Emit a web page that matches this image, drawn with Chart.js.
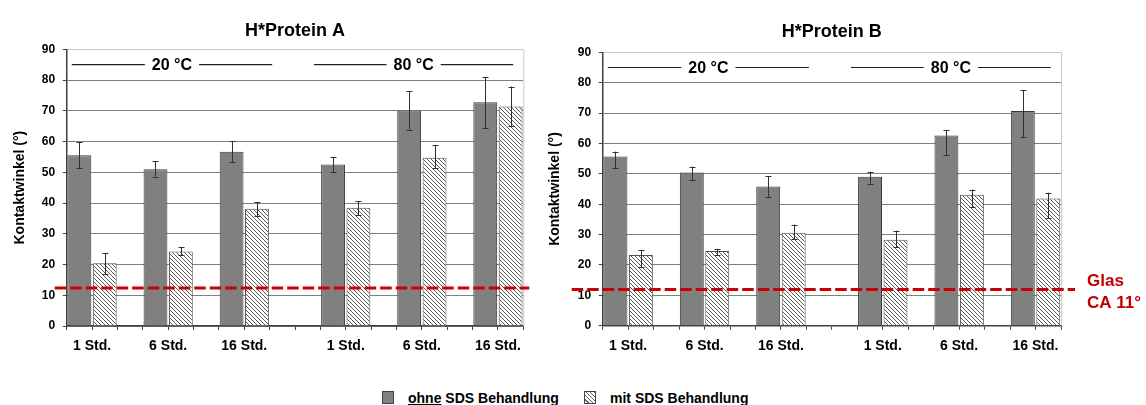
<!DOCTYPE html>
<html>
<head>
<meta charset="utf-8">
<script src="https://cdn.jsdelivr.net/npm/chart.js@4.4.1/dist/chart.umd.min.js"></script>
<style>
  html, body { margin: 0; padding: 0; background: #fff; }
  body { width: 1146px; height: 405px; position: relative; overflow: hidden;
         font-family: 'Liberation Sans', Arial, sans-serif; }
  canvas { position: absolute; top: 0; }
  #chartA { left: 0; }
  #chartB { left: 535px; }
  .sw { position: absolute; top: 391px; width: 12px; height: 13px; box-sizing: border-box; border: 1px solid #404040; }
  .lg { position: absolute; top: 390px; font-size: 14px; line-height: 16px; font-weight: bold; color: #000; white-space: nowrap; }
</style>
</head>
<body>
<canvas id="chartA" width="530" height="370"></canvas>
<canvas id="chartB" width="611" height="370"></canvas>

<div class="sw" style="left:382px; background:#808080;"></div>
<div class="lg" style="left:408px;"><u>ohne</u> SDS Behandlung</div>
<div class="sw" style="left:584px; background:repeating-linear-gradient(45deg, #fff 0 2px, #606060 2px 3px);"></div>
<div class="lg" style="left:610px;">mit SDS Behandlung</div>

<script>
// categories
const timeLabels = ['1 Std.', '6 Std.', '16 Std.'];
const tempLabels = ['20 °C', '80 °C'];

// y axis
const yMin = 0;
const yMax = 90;
const yStep = 10;

// H*Protein A (20 °C: 1, 6, 16 Std. / 80 °C: 1, 6, 16 Std.)
const ohneA    = [55.5, 51.0, 56.7, 52.5, 70.1, 72.8];
const ohneA_lo = [51.3, 48.6, 53.4, 50.0, 63.9, 64.4];
const ohneA_hi = [59.7, 53.6, 60.2, 55.1, 76.3, 81.1];
const mitA     = [20.4, 24.2, 38.1, 38.5, 54.7, 71.4];
const mitA_lo  = [16.8, 23.1, 35.7, 36.2, 51.3, 65.0];
const mitA_hi  = [23.8, 25.6, 40.3, 40.6, 58.9, 77.9];
const glasA = 12.4;

// H*Protein B
const ohneB    = [55.7, 50.4, 45.8, 49.0, 62.6, 70.7];
const ohneB_lo = [51.8, 48.0, 42.5, 46.8, 56.2, 62.0];
const ohneB_hi = [57.3, 52.4, 49.3, 50.7, 64.4, 77.5];
const mitB     = [23.3, 24.6, 30.6, 28.3, 43.1, 41.9];
const mitB_lo  = [19.2, 23.3, 28.4, 25.9, 39.1, 35.3];
const mitB_hi  = [25.0, 25.3, 33.3, 31.3, 44.8, 43.8];
const glasB = 11.9;

const glasText = ['Glas', 'CA 11°'];

Chart.defaults.font.family = "'Liberation Sans', Arial, sans-serif";
Chart.defaults.color = '#000';

// slot layout: a pair of bars per time point, one free slot between pairs,
// two free slots between the temperatures
const slots = [];
tempLabels.forEach((t, ti) => {
    if (ti > 0) slots.push(null, null);
    timeLabels.forEach((h, hi) => {
        if (hi > 0) slots.push(null);
        const g = ti * timeLabels.length + hi;
        slots.push({ g: g, side: 0 }, { g: g, side: 1 });
    });
});
const slotLabels = slots.map(s => (s && s.side === 0) ? timeLabels[s.g % timeLabels.length] : '');

function toSlots(values, side) {
    return slots.map(s => (s && s.side === side) ? values[s.g] : null);
}

/**
 * Diagonal hatch for the "mit SDS" bars
 */
function makeHatch() {
    const c = document.createElement('canvas');
    c.width = 4;
    c.height = 4;
    const g = c.getContext('2d');
    g.fillStyle = '#fff';
    g.fillRect(0, 0, 4, 4);
    g.strokeStyle = '#5a5a5a';
    g.lineWidth = 1;
    g.beginPath();
    g.moveTo(-1, -1); g.lineTo(5, 5);
    g.moveTo(-1, 3); g.lineTo(1, 5);
    g.moveTo(3, -1); g.lineTo(5, 1);
    g.stroke();
    return g.createPattern(c, 'repeat');
}

// light frame on the right of the plot area
const plotFrame = {
    id: 'plotFrame',
    beforeDatasetsDraw(chart) {
        const { ctx, chartArea: a } = chart;
        ctx.save();
        ctx.strokeStyle = '#c8c8c8';
        ctx.lineWidth = 1;
        ctx.beginPath();
        ctx.moveTo(a.right + 0.5, a.top);
        ctx.lineTo(a.right + 0.5, a.bottom);
        ctx.stroke();
        ctx.restore();
    }
};

// error bars from the low/high arrays attached to each dataset
const errorBars = {
    id: 'errorBars',
    afterDatasetsDraw(chart) {
        const { ctx } = chart;
        const ys = chart.scales.y;
        ctx.save();
        ctx.strokeStyle = '#303030';
        ctx.lineWidth = 1;
        chart.data.datasets.forEach((ds, di) => {
            const meta = chart.getDatasetMeta(di);
            meta.data.forEach((bar, i) => {
                if (ds.data[i] == null) return;
                const x = Math.round(bar.x) + 0.5;
                const y1 = ys.getPixelForValue(ds.errLow[i]);
                const y2 = ys.getPixelForValue(ds.errHigh[i]);
                ctx.beginPath();
                ctx.moveTo(x, y1); ctx.lineTo(x, y2);
                ctx.moveTo(x - 3, Math.round(y1) + 0.5); ctx.lineTo(x + 3, Math.round(y1) + 0.5);
                ctx.moveTo(x - 3, Math.round(y2) + 0.5); ctx.lineTo(x + 3, Math.round(y2) + 0.5);
                ctx.stroke();
            });
        });
        ctx.restore();
    }
};

// "—— 20 °C ——" headers inside the top band of the plot
const tempHeader = {
    id: 'tempHeader',
    afterDatasetsDraw(chart, args, opts) {
        const { ctx } = chart;
        const xs = chart.scales.x;
        const ys = chart.scales.y;
        const w = xs.getPixelForValue(1) - xs.getPixelForValue(0);
        const x0 = xs.getPixelForValue(0) - w / 2;
        const y = ys.getPixelForValue(opts.value);
        ctx.save();
        ctx.font = "bold 16px 'Liberation Sans', Arial, sans-serif";
        ctx.textAlign = 'center';
        ctx.textBaseline = 'middle';
        ctx.fillStyle = '#000';
        ctx.strokeStyle = '#202020';
        ctx.lineWidth = 1.2;
        tempLabels.forEach((t, i) => {
            const a = x0 + opts.spans[i][0] * w;
            const b = x0 + opts.spans[i][1] * w;
            const c = (a + b) / 2;
            const half = ctx.measureText(t).width / 2 + 7;
            ctx.beginPath();
            ctx.moveTo(a, y); ctx.lineTo(c - half, y);
            ctx.moveTo(c + half, y); ctx.lineTo(b, y);
            ctx.stroke();
            ctx.fillText(t, c, y + 1);
        });
        ctx.restore();
    }
};

// red dashed glass reference line
const glasLine = {
    id: 'glasLine',
    afterDraw(chart, args, opts) {
        const { ctx, chartArea: a } = chart;
        const y = chart.scales.y.getPixelForValue(opts.value);
        ctx.save();
        ctx.strokeStyle = '#cc0000';
        ctx.lineWidth = 3;
        ctx.setLineDash([11.5, 4]);
        ctx.beginPath();
        ctx.moveTo(a.left - opts.extLeft, y);
        ctx.lineTo(a.right + opts.extRight, y);
        ctx.stroke();
        if (opts.showText) {
            ctx.setLineDash([]);
            ctx.fillStyle = '#c00000';
            ctx.font = "bold 17px 'Liberation Sans', Arial, sans-serif";
            ctx.textAlign = 'left';
            ctx.textBaseline = 'alphabetic';
            ctx.fillText(glasText[0], a.right + opts.textDx, y - 4);
            ctx.fillText(glasText[1], a.right + opts.textDx, y + 18);
        }
        ctx.restore();
    }
};

function makeChart(canvasId, title, d) {
    const hatch = makeHatch();
    new Chart(document.getElementById(canvasId), {
        type: 'bar',
        data: {
            labels: slotLabels,
            datasets: [
                {
                    label: 'ohne SDS Behandlung',
                    data: toSlots(d.ohne, 0),
                    errLow: toSlots(d.ohneLo, 0),
                    errHigh: toSlots(d.ohneHi, 0),
                    backgroundColor: '#808080',
                    borderColor: '#3a3a3a',
                    borderWidth: 1,
                    grouped: false,
                    categoryPercentage: 1,
                    barPercentage: 0.94
                },
                {
                    label: 'mit SDS Behandlung',
                    data: toSlots(d.mit, 1),
                    errLow: toSlots(d.mitLo, 1),
                    errHigh: toSlots(d.mitHi, 1),
                    backgroundColor: hatch,
                    borderColor: '#505050',
                    borderWidth: 1,
                    grouped: false,
                    categoryPercentage: 1,
                    barPercentage: 0.94
                }
            ]
        },
        options: {
            responsive: false,
            animation: false,
            layout: { padding: { left: 0, right: d.padRight, top: 0, bottom: 0 } },
            plugins: {
                legend: { display: false },
                tooltip: { enabled: false },
                title: {
                    display: true,
                    text: title,
                    fullSize: false,
                    font: { size: 18, weight: 'bold' },
                    color: '#000',
                    padding: d.titlePad
                },
                tempHeader: { value: 85, spans: [[0.2, 8.1], [9.75, 17.6]] },
                glasLine: { value: d.glas, extLeft: d.extLeft, extRight: d.extRight, showText: d.showText, textDx: 26 }
            },
            scales: {
                x: {
                    grid: { offset: true, drawOnChartArea: false, drawTicks: true, tickLength: 4, color: '#404040' },
                    border: { color: '#404040', width: 1.5 },
                    ticks: {
                        autoSkip: false,
                        maxRotation: 0,
                        labelOffset: 12.7,
                        padding: 8,
                        font: { size: 14, weight: 'bold' },
                        color: '#000'
                    },
                    afterFit: s => { s.height = d.xHeight; }
                },
                y: {
                    min: yMin,
                    max: yMax,
                    ticks: { stepSize: yStep, padding: 7.5, font: { size: 12, weight: 'bold' }, color: '#000' },
                    grid: {
                        color: c => c.tick.value === yMax ? '#c8c8c8' : '#808080',
                        tickColor: '#404040',
                        tickLength: 4
                    },
                    border: { color: '#404040', width: 1.5 },
                    title: {
                        display: true,
                        text: 'Kontaktwinkel (°)',
                        font: { size: 14, weight: 'bold' },
                        color: '#000',
                        padding: { top: 11.6, bottom: 0 }
                    },
                    afterFit: s => { s.width = d.yWidth; }
                }
            }
        },
        plugins: [plotFrame, errorBars, tempHeader, glasLine]
    });
}

makeChart('chartA', 'H*Protein A', {
    ohne: ohneA, ohneLo: ohneA_lo, ohneHi: ohneA_hi,
    mit: mitA, mitLo: mitA_lo, mitHi: mitA_hi,
    glas: glasA, extLeft: 12, extRight: 6, showText: false,
    padRight: 6.7, yWidth: 66.7, xHeight: 44,
    titlePad: { top: 20, bottom: 7.7 }
});

makeChart('chartB', 'H*Protein B', {
    ohne: ohneB, ohneLo: ohneB_lo, ohneHi: ohneB_hi,
    mit: mitB, mitLo: mitB_lo, mitHi: mitB_hi,
    glas: glasB, extLeft: 31, extRight: 14, showText: true,
    padRight: 85, yWidth: 67.7, xHeight: 44.3,
    titlePad: { top: 21, bottom: 9.7 }
});
</script>
</body>
</html>
